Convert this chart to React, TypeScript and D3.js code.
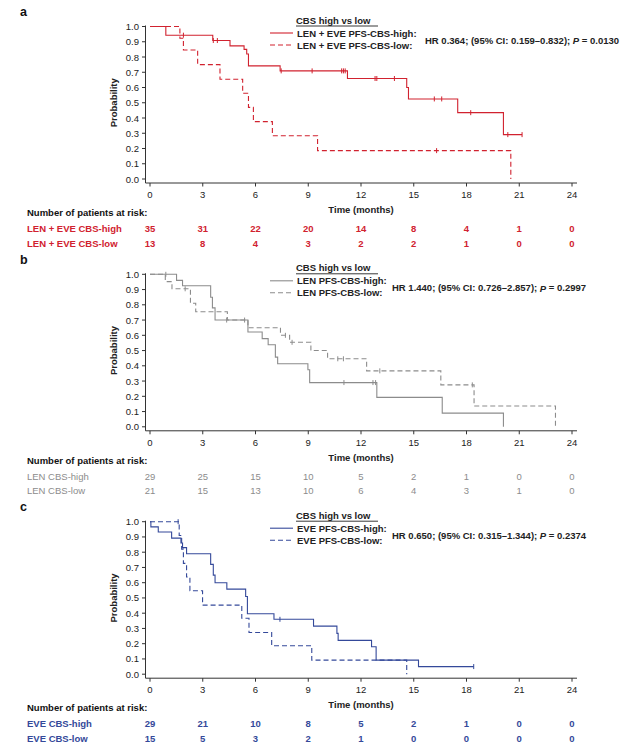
import React from "react";
import * as d3 from "d3";

type Pt = [number, number];

const monthTicks = [0, 3, 6, 9, 12, 15, 18, 21, 24];
const probTicks = [0, 0.1, 0.2, 0.3, 0.4, 0.5, 0.6, 0.7, 0.8, 0.9, 1.0];

// Panel a: LEN + EVE
const aHighEvents: Pt[] = [[0.9, 0.943], [3.57, 0.908], [4.55, 0.873], [5.35, 0.85], [5.5, 0.82], [5.6, 0.742], [7.4, 0.709], [11.23, 0.659], [14.6, 0.6], [14.7, 0.525], [17.5, 0.435], [20.1, 0.291]];
const aHighEnd = 21.16;
const aHighCensor = [1.9, 3.6, 3.83, 7.46, 9.22, 10.9, 11.0, 11.1, 12.8, 12.9, 13.9, 16.17, 16.59, 18.24, 20.35, 21.16];
const aLowEvents: Pt[] = [[1.7, 0.923], [1.9, 0.846], [2.71, 0.75], [3.98, 0.654], [5.27, 0.562], [5.6, 0.47], [5.88, 0.376], [6.96, 0.284], [9.53, 0.186], [20.52, 0]];
const aLowEnd = 20.52;
const aLowCensor = [16.3];
const aRiskHigh = [35, 31, 22, 20, 14, 8, 4, 1, 0];
const aRiskLow = [13, 8, 4, 3, 2, 2, 1, 0, 0];

// Panel b: LEN
const bHighEvents: Pt[] = [[1.51, 0.96], [1.85, 0.925], [3.45, 0.85], [3.55, 0.78], [3.7, 0.7], [5.57, 0.622], [6.38, 0.578], [6.72, 0.538], [7.13, 0.457], [7.26, 0.413], [8.98, 0.374], [9.08, 0.29], [12.9, 0.193], [16.62, 0.09], [20.1, 0]];
const bHighEnd = 20.1;
const bHighCensor = [0.9, 4.36, 5.38, 11.03, 12.68, 12.83];
const bLowEvents: Pt[] = [[0.87, 0.952], [1.25, 0.905], [2.3, 0.81], [2.6, 0.754], [4.4, 0.7], [5.57, 0.65], [7.42, 0.6], [7.94, 0.554], [9.15, 0.5], [10.1, 0.446], [12.32, 0.367], [16.54, 0.275], [18.43, 0.136], [23.06, 0]];
const bLowEnd = 23.06;
const bLowCensor = [2.0, 7.7, 8.08, 10.68, 11.0, 13.07, 18.33];
const bRiskHigh = [29, 25, 15, 10, 5, 2, 1, 0, 0];
const bRiskLow = [21, 15, 13, 10, 6, 4, 3, 1, 0];

// Panel c: EVE
const cHighEvents: Pt[] = [[0.05, 0.966], [0.47, 0.932], [1.23, 0.892], [1.76, 0.86], [1.85, 0.83], [2.08, 0.79], [3.45, 0.72], [3.6, 0.65], [3.7, 0.6], [4.37, 0.558], [5.44, 0.51], [5.54, 0.396], [7.05, 0.36], [9.3, 0.315], [10.63, 0.268], [10.7, 0.222], [12.6, 0.18], [12.86, 0.092], [15.27, 0.05]];
const cHighEnd = 18.41;
const cHighCensor = [7.39, 18.41];
const cLowEvents: Pt[] = [[1.66, 0.91], [1.8, 0.82], [1.9, 0.727], [2.08, 0.637], [2.27, 0.547], [2.99, 0.453], [5.22, 0.367], [5.63, 0.273], [6.92, 0.187], [9.2, 0.092], [14.6, 0]];
const cLowEnd = 14.6;
const cLowCensor = [1.6];
const cRiskHigh = [29, 21, 10, 8, 5, 2, 1, 0, 0];
const cRiskLow = [15, 5, 3, 2, 1, 0, 0, 0, 0];

const FONT = "'Liberation Sans', Arial, Helvetica, sans-serif";

interface PanelSpec {
  letter: string;
  top: number;
  color: string;
  highEvents: Pt[];
  highEnd: number;
  highCensor: number[];
  lowEvents: Pt[];
  lowEnd: number;
  lowCensor: number[];
  legendHigh: string;
  legendLow: string;
  hrText: [string, string];
  hrX: number;
  riskLabelHigh: string;
  riskLabelLow: string;
  riskHigh: number[];
  riskLow: number[];
}

const panels: PanelSpec[] = [
  {
    letter: "a", top: 26.5, color: "#d1222f",
    highEvents: aHighEvents, highEnd: aHighEnd, highCensor: aHighCensor,
    lowEvents: aLowEvents, lowEnd: aLowEnd, lowCensor: aLowCensor,
    legendHigh: "LEN + EVE PFS-CBS-high:", legendLow: "LEN + EVE PFS-CBS-low:",
    hrText: ["HR 0.364; (95% CI: 0.159\u20130.832); ", " = 0.0130"], hrX: 425,
    riskLabelHigh: "LEN + EVE CBS-high", riskLabelLow: "LEN + EVE CBS-low",
    riskHigh: aRiskHigh, riskLow: aRiskLow,
  },
  {
    letter: "b", top: 274.3, color: "#8c8c8c",
    highEvents: bHighEvents, highEnd: bHighEnd, highCensor: bHighCensor,
    lowEvents: bLowEvents, lowEnd: bLowEnd, lowCensor: bLowCensor,
    legendHigh: "LEN PFS-CBS-high:", legendLow: "LEN PFS-CBS-low:",
    hrText: ["HR 1.440; (95% CI: 0.726\u20132.857); ", " = 0.2997"], hrX: 392,
    riskLabelHigh: "LEN CBS-high", riskLabelLow: "LEN CBS-low",
    riskHigh: bRiskHigh, riskLow: bRiskLow,
  },
  {
    letter: "c", top: 521.7, color: "#34499a",
    highEvents: cHighEvents, highEnd: cHighEnd, highCensor: cHighCensor,
    lowEvents: cLowEvents, lowEnd: cLowEnd, lowCensor: cLowCensor,
    legendHigh: "EVE PFS-CBS-high:", legendLow: "EVE PFS-CBS-low:",
    hrText: ["HR 0.650; (95% CI: 0.315\u20131.344); ", " = 0.2374"], hrX: 392,
    riskLabelHigh: "EVE CBS-high", riskLabelLow: "EVE CBS-low",
    riskHigh: cRiskHigh, riskLow: cRiskLow,
  },
];

const x = d3.scaleLinear().domain([0, 24]).range([150, 572]);

function survAt(events: Pt[], t: number): number {
  let p = 1;
  for (const [et, ep] of events) {
    if (et <= t) p = ep;
  }
  return p;
}

function Panel({ spec }: { spec: PanelSpec }) {
  const y = d3.scaleLinear().domain([0, 1]).range([spec.top + 152.5, spec.top]);
  const axisY = y(0) + 4;
  const line = d3
    .line<Pt>()
    .x((d) => x(d[0]))
    .y((d) => y(d[1]))
    .curve(d3.curveStepAfter);

  const buildPts = (events: Pt[], end: number): Pt[] => {
    const pts: Pt[] = [[0, 1], ...events];
    const last = events[events.length - 1];
    if (end > last[0]) pts.push([end, last[1]]);
    return pts;
  };
  const highPath = line(buildPts(spec.highEvents, spec.highEnd)) || "";
  const lowPath = line(buildPts(spec.lowEvents, spec.lowEnd)) || "";
  const dash = "5,3";
  const lw = 1.1;
  const legY1 = spec.top + 6.5;
  const legY2 = spec.top + 18.5;
  const headY = spec.top - 6.5;
  const hrY = spec.top + 13.5;
  const tickLabelY = axisY + 11.5;
  const timeY = axisY + 26.5;
  const numY = axisY + 29.5;
  const row1Y = axisY + 45.5;
  const row2Y = axisY + 60;
  const isGray = spec.letter === "b";

  return (
    <g>
      <text x={20} y={spec.top - 14.5} fontSize={12.5} fontWeight="bold" fill="#111" dominantBaseline="central">
        {spec.letter}
      </text>
      {/* axes */}
      <line x1={145.5} x2={145.5} y1={spec.top - 1} y2={axisY} stroke="#333" strokeWidth={1} />
      <line x1={145.5} x2={577} y1={axisY} y2={axisY} stroke="#333" strokeWidth={1} />
      {probTicks.map((p) => (
        <g key={"yt" + p}>
          <line x1={142} x2={145.5} y1={y(p)} y2={y(p)} stroke="#333" />
          <text x={139} y={y(p)} fontSize={9.5} textAnchor="end" dominantBaseline="central" fill="#222">
            {p.toFixed(1)}
          </text>
        </g>
      ))}
      {monthTicks.map((m) => (
        <g key={"xt" + m}>
          <line x1={x(m)} x2={x(m)} y1={axisY} y2={axisY + 3.5} stroke="#333" />
          <text x={x(m)} y={tickLabelY} fontSize={9.5} textAnchor="middle" dominantBaseline="central" fill="#222">
            {m}
          </text>
        </g>
      ))}
      <text
        transform={`translate(113,${(y(0) + y(1)) / 2}) rotate(-90)`}
        fontSize={9.5}
        fontWeight="bold"
        textAnchor="middle"
        dominantBaseline="central"
        fill="#222"
      >
        Probability
      </text>
      <text x={361} y={timeY} fontSize={9.5} fontWeight="bold" textAnchor="middle" dominantBaseline="central" fill="#222">
        Time (months)
      </text>
      {/* curves */}
      <path d={lowPath} fill="none" stroke={spec.color} strokeWidth={lw} strokeDasharray={dash} />
      <path d={highPath} fill="none" stroke={spec.color} strokeWidth={lw} />
      {spec.highCensor.map((t, i) => (
        <line key={"hc" + i} x1={x(t)} x2={x(t)} y1={y(survAt(spec.highEvents, t)) - 2.5} y2={y(survAt(spec.highEvents, t)) + 2.5} stroke={spec.color} strokeWidth={1} />
      ))}
      {spec.lowCensor.map((t, i) => (
        <line key={"lc" + i} x1={x(t)} x2={x(t)} y1={y(survAt(spec.lowEvents, t)) - 2.5} y2={y(survAt(spec.lowEvents, t)) + 2.5} stroke={spec.color} strokeWidth={1} />
      ))}
      {/* legend */}
      <text x={296} y={headY} fontSize={9.5} fontWeight="bold" dominantBaseline="central" fill="#222">
        CBS high vs low
      </text>
      <line x1={296} x2={378} y1={headY + 6} y2={headY + 6} stroke="#222" strokeWidth={0.9} />
      <line x1={270} x2={293} y1={legY1} y2={legY1} stroke={spec.color} strokeWidth={lw} />
      <line x1={270} x2={293} y1={legY2} y2={legY2} stroke={spec.color} strokeWidth={lw} strokeDasharray={dash} />
      <text x={297} y={legY1} fontSize={9.5} fontWeight="bold" dominantBaseline="central" fill="#222">
        {spec.legendHigh}
      </text>
      <text x={297} y={legY2} fontSize={9.5} fontWeight="bold" dominantBaseline="central" fill="#222">
        {spec.legendLow}
      </text>
      <text x={spec.hrX} y={hrY} fontSize={9.5} fontWeight="bold" dominantBaseline="central" fill="#222">
        {spec.hrText[0]}
        <tspan fontStyle="italic">P</tspan>
        {spec.hrText[1]}
      </text>
      {/* risk table */}
      <text x={27} y={numY} fontSize={9.5} fontWeight="bold" dominantBaseline="central" fill="#111">
        Number of patients at risk:
      </text>
      <text x={27} y={row1Y} fontSize={9.5} fontWeight={isGray ? "normal" : "bold"} dominantBaseline="central" fill={spec.color}>
        {spec.riskLabelHigh}
      </text>
      <text x={27} y={row2Y} fontSize={9.5} fontWeight={isGray ? "normal" : "bold"} dominantBaseline="central" fill={spec.color}>
        {spec.riskLabelLow}
      </text>
      {spec.riskHigh.map((n, i) => (
        <text key={"rh" + i} x={x(monthTicks[i])} y={row1Y} fontSize={9.5} fontWeight={isGray ? "normal" : "bold"} textAnchor="middle" dominantBaseline="central" fill={spec.color}>
          {n}
        </text>
      ))}
      {spec.riskLow.map((n, i) => (
        <text key={"rl" + i} x={x(monthTicks[i])} y={row2Y} fontSize={9.5} fontWeight={isGray ? "normal" : "bold"} textAnchor="middle" dominantBaseline="central" fill={spec.color}>
          {n}
        </text>
      ))}
    </g>
  );
}

export default function App() {
  return (
    <svg
      width={640}
      height={750}
      style={{ position: "absolute", left: 0, top: 0, background: "#fff", fontFamily: FONT }}
      fontFamily={FONT}
    >
      <rect x={0} y={0} width={640} height={750} fill="#fff" />
      {panels.map((p) => (
        <Panel key={p.letter} spec={p} />
      ))}
    </svg>
  );
}
